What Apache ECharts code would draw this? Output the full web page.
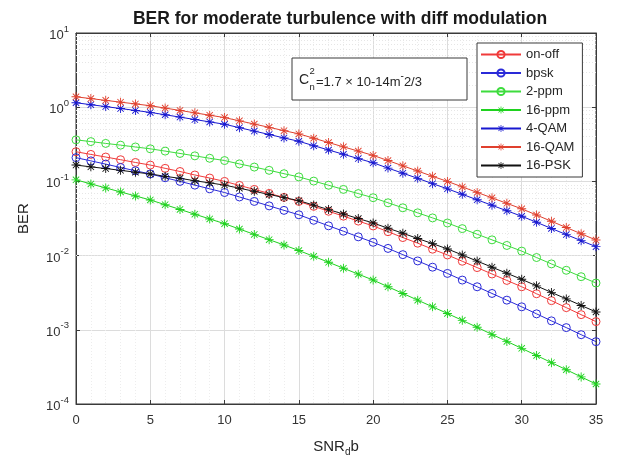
<!DOCTYPE html>
<html>
<head>
<meta charset="utf-8">
<script src="https://cdn.jsdelivr.net/npm/echarts@6/dist/echarts.min.js"></script>
<style>
html, body { margin: 0; padding: 0; background: #fff; }
#chart { width: 621px; height: 462px; }
</style>
</head>
<body>
<div id="chart"></div>
<script>
// SNR_db values (one marker per dB)
var snr = [0,1,2,3,4,5,6,7,8,9,10,11,12,13,14,15,16,17,18,19,20,21,22,23,24,25,26,27,28,29,30,31,32,33,34,35];

// BER values
var onOff = [0.251,0.231,0.213,0.196,0.180,0.166,0.150,0.136,0.122,0.111,0.100,0.0883,0.0780,0.0689,0.0608,0.0537,0.0461,0.0396,0.0340,0.0292,0.0251,0.0210,0.0175,0.0147,0.0122,0.0102,0.00839,0.00689,0.00565,0.00463,0.00380,0.00306,0.00247,0.00199,0.00160,0.00129];
var bpsk = [0.209,0.189,0.171,0.154,0.139,0.126,0.112,0.100,0.0891,0.0794,0.0708,0.0617,0.0537,0.0468,0.0407,0.0355,0.0299,0.0252,0.0213,0.0179,0.0151,0.0125,0.0103,0.00847,0.00698,0.00575,0.00468,0.00380,0.00309,0.00251,0.00204,0.00164,0.00132,0.00107,0.000859,0.000692];
var ppm2 = [0.363,0.344,0.325,0.308,0.291,0.275,0.256,0.238,0.221,0.205,0.191,0.172,0.156,0.141,0.127,0.115,0.101,0.0887,0.0780,0.0685,0.0603,0.0515,0.0441,0.0377,0.0322,0.0275,0.0231,0.0194,0.0163,0.0137,0.0115,0.00942,0.00773,0.00634,0.00520,0.00427];
var ppm16 = [0.105,0.0925,0.0817,0.0721,0.0637,0.0562,0.0485,0.0419,0.0361,0.0312,0.0269,0.0228,0.0193,0.0164,0.0139,0.0117,0.00977,0.00813,0.00676,0.00562,0.00468,0.00380,0.00309,0.00251,0.00204,0.00166,0.00134,0.00108,0.000867,0.000698,0.000562,0.000451,0.000361,0.000290,0.000232,0.000186];
var qam4 = [1.148,1.081,1.019,0.959,0.904,0.851,0.791,0.735,0.682,0.634,0.589,0.530,0.476,0.429,0.385,0.347,0.303,0.265,0.232,0.203,0.178,0.151,0.129,0.110,0.0933,0.0794,0.0670,0.0565,0.0476,0.0402,0.0339,0.0281,0.0232,0.0192,0.0159,0.0132];
var qam16 = [1.380,1.306,1.236,1.169,1.107,1.047,0.973,0.904,0.839,0.780,0.724,0.655,0.592,0.535,0.483,0.437,0.382,0.334,0.292,0.256,0.224,0.191,0.162,0.138,0.117,0.100,0.0843,0.0711,0.0600,0.0506,0.0427,0.0352,0.0290,0.0239,0.0197,0.0162];
var psk16 = [0.166,0.157,0.149,0.141,0.133,0.126,0.117,0.110,0.102,0.0955,0.0891,0.0809,0.0735,0.0667,0.0605,0.0550,0.0479,0.0417,0.0363,0.0316,0.0275,0.0234,0.0200,0.0170,0.0145,0.0123,0.0102,0.00843,0.00698,0.00578,0.00479,0.00391,0.00319,0.00261,0.00213,0.00174];

var xTicks = [0, 5, 10, 15, 20, 25, 30, 35];

// matlab-like asterisk marker
var STAR = 'path://M0,9L20,9L20,11L0,11Z M9,0L11,0L11,20L9,20Z M2.22,3.64L3.64,2.22L17.78,16.36L16.36,17.78Z M16.36,2.22L17.78,3.64L3.64,17.78L2.22,16.36Z';

function mk(name, vals, color, mark) {
  var circ = mark === 'o';
  return {
    name: name,
    type: 'line',
    data: snr.map(function (x, i) { return [x, vals[i]]; }),
    symbol: circ ? 'circle' : STAR,
    symbolSize: circ ? 8 : 9,
    showAllSymbol: true,
    lineStyle: { color: color, width: 1 },
    itemStyle: circ
      ? { color: 'rgba(255,255,255,0)', borderColor: color, borderWidth: 1 }
      : { color: color, borderWidth: 0 },
    emphasis: { disabled: true },
    z: 3
  };
}

// minor log grid lines at 2..9 x 10^k
var minorY = [];
for (var k = -4; k < 1; k++) {
  for (var m = 2; m <= 9; m++) minorY.push({ yAxis: m * Math.pow(10, k) });
}

var chart = echarts.init(document.getElementById('chart'));

var series = [
  mk('on-off', onOff, '#f03a3a', 'o'),
  mk('bpsk', bpsk, '#2a2ad8', 'o'),
  mk('2-ppm', ppm2, '#3ddc3d', 'o'),
  mk('16-ppm', ppm16, '#1fd21f', '*'),
  mk('4-QAM', qam4, '#1818d0', '*'),
  mk('16-QAM', qam16, '#e0402e', '*'),
  mk('16-PSK', psk16, '#111111', '*')
];
series[0].markLine = {
  silent: true,
  symbol: 'none',
  label: { show: false },
  lineStyle: { color: '#e6e6e6', type: [1, 2], width: 1 },
  data: minorY,
  z: 1
};

var lbl = { fontFamily: 'Liberation Sans', fontSize: 13, color: '#333' };

chart.setOption({
  animation: false,
  backgroundColor: '#ffffff',
  color: ['#f03a3a', '#2a2ad8', '#3ddc3d', '#1fd21f', '#1818d0', '#e0402e', '#111111'],
  title: {
    text: 'BER for moderate turbulence with diff modulation',
    left: 335,
    top: 5,
    textAlign: 'center',
    textStyle: { fontFamily: 'Liberation Sans', fontSize: 17.5, fontWeight: 'bold', color: '#1a1a1a' }
  },
  grid: {
    left: 76, right: 25, top: 33, bottom: 54,
    show: true,
    borderColor: '#3a3a3a',
    borderWidth: 1,
    backgroundColor: '#ffffff'
  },
  legend: {
    orient: 'vertical',
    left: 477,
    top: 43,
    padding: [5, 8, 5, 3],
    itemGap: 5.5,
    itemWidth: 40,
    itemHeight: 9,
    backgroundColor: '#ffffff',
    borderColor: '#3a3a3a',
    borderWidth: 1,
    borderRadius: 0,
    textStyle: { fontFamily: 'Liberation Sans', fontSize: 13, color: '#262626' },
    data: ['on-off', 'bpsk', '2-ppm', '16-ppm', '4-QAM', '16-QAM', '16-PSK']
  },
  xAxis: [{
    type: 'value',
    min: 0,
    max: 35,
    interval: 5,
    name: '{n|SNR}{d|d}{n|b}',
    nameLocation: 'middle',
    nameGap: 33,
    nameTextStyle: {
      fontFamily: 'Liberation Sans', fontSize: 15, color: '#262626',
      rich: {
        n: { fontFamily: 'Liberation Sans', fontSize: 15, color: '#262626' },
        d: { fontFamily: 'Liberation Sans', fontSize: 10, color: '#262626', padding: [10, 0, 0, 0] }
      }
    },
    axisLine: { onZero: false, lineStyle: { color: '#3a3a3a', width: 1 } },
    axisTick: { inside: true, length: 4, lineStyle: { color: '#3a3a3a' } },
    axisLabel: {
      margin: 10, fontFamily: lbl.fontFamily, fontSize: lbl.fontSize, color: lbl.color,
      formatter: function (v) { return xTicks.indexOf(v) >= 0 ? String(v) : ''; }
    },
    splitLine: { show: true, lineStyle: { color: '#dcdcdc', width: 1 } },
    minorTick: { show: false, splitNumber: 5 },
    minorSplitLine: { show: true, lineStyle: { color: '#ededed', type: [1, 2] } }
  }, {
    type: 'value',
    position: 'top',
    min: 0,
    max: 35,
    interval: 5,
    axisLine: { onZero: false, lineStyle: { color: '#3a3a3a', width: 1 } },
    axisTick: { inside: true, length: 4, lineStyle: { color: '#3a3a3a' } },
    axisLabel: { show: false },
    splitLine: { show: false }
  }],
  yAxis: [{
    type: 'log',
    logBase: 10,
    min: 1e-4,
    max: 10,
    name: 'BER',
    nameLocation: 'middle',
    nameGap: 45,
    nameRotate: 90,
    nameTextStyle: { fontFamily: 'Liberation Sans', fontSize: 15, color: '#262626' },
    axisLine: { onZero: false, lineStyle: { color: '#3a3a3a', width: 1 } },
    axisTick: { inside: true, length: 4, lineStyle: { color: '#3a3a3a' } },
    axisLabel: {
      margin: 7,
      formatter: function (v) {
        var e = Math.round(Math.log10(v));
        return '{b|10}{e|' + e + '}';
      },
      rich: {
        b: { fontFamily: 'Liberation Sans', fontSize: 13, color: '#333', lineHeight: 18, verticalAlign: 'bottom' },
        e: { fontFamily: 'Liberation Sans', fontSize: 9.5, color: '#333', lineHeight: 18, verticalAlign: 'top' }
      }
    },
    splitLine: { show: true, lineStyle: { color: '#dcdcdc', width: 1 } }
  }, {
    type: 'log',
    logBase: 10,
    min: 1e-4,
    max: 10,
    position: 'right',
    axisLine: { onZero: false, lineStyle: { color: '#3a3a3a', width: 1 } },
    axisTick: { inside: true, length: 4, lineStyle: { color: '#3a3a3a' } },
    axisLabel: { show: false },
    splitLine: { show: false }
  }],
  graphic: [
    {
      type: 'rect',
      shape: { x: 292, y: 58, width: 175, height: 42 },
      style: { fill: '#ffffff', stroke: '#3a3a3a', lineWidth: 1 },
      z: 50
    },
    {
      type: 'text', x: 299, y: 80, z: 51,
      style: { text: 'C', font: '14px "Liberation Sans"', fill: '#262626', verticalAlign: 'middle' }
    },
    {
      type: 'text', x: 309.5, y: 71, z: 51,
      style: { text: '2', font: '9.5px "Liberation Sans"', fill: '#262626', verticalAlign: 'middle' }
    },
    {
      type: 'text', x: 309.5, y: 87, z: 51,
      style: { text: 'n', font: '9.5px "Liberation Sans"', fill: '#262626', verticalAlign: 'middle' }
    },
    {
      type: 'text', x: 316, y: 80, z: 51,
      style: {
        text: '{a|=1.7 × 10-14m}{s|-}{a|2/3}',
        verticalAlign: 'middle',
        rich: {
          a: { font: '13px "Liberation Sans"', fill: '#262626', lineHeight: 18, verticalAlign: 'bottom' },
          s: { font: '10px "Liberation Sans"', fill: '#262626', lineHeight: 18, verticalAlign: 'top' }
        }
      }
    }
  ],
  series: series
});
</script>
</body>
</html>
